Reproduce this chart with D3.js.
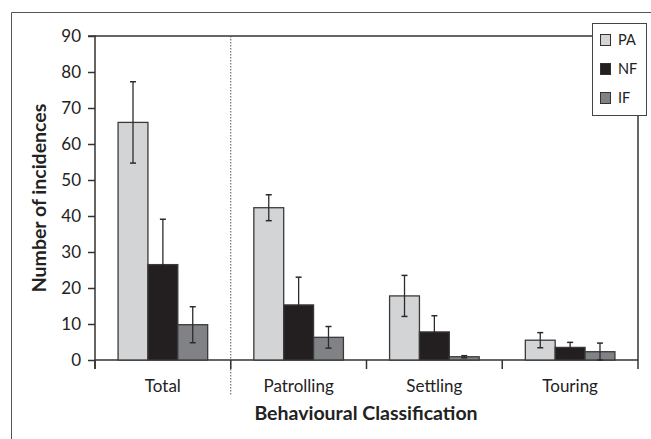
<!DOCTYPE html>
<html><head><meta charset="utf-8">
<script src="https://cdn.jsdelivr.net/npm/d3@7"></script>
<style>body{margin:0;background:#fff}svg{display:block}</style>
</head><body>
<script>
const categories = ["Total", "Patrolling", "Settling", "Touring"];
const seriesNames = ["PA", "NF", "IF"];
const valuesPA = [66, 42.3, 17.8, 5.5];
const valuesNF = [26.5, 15.3, 7.8, 3.5];
const valuesIF = [9.8, 6.3, 0.9, 2.3];
const errPA = [11.3, 3.6, 5.7, 2.1];
const errNF = [12.6, 7.7, 4.5, 1.4];
const errIF = [5.0, 3.0, 0.3, 2.4];
const yTicks = [0, 10, 20, 30, 40, 50, 60, 70, 80, 90];

const colors = {PA: "#d3d4d6", NF: "#231f20", IF: "#818285"};
const vals = {PA: valuesPA, NF: valuesNF, IF: valuesIF};
const errs = {PA: errPA, NF: errNF, IF: errIF};

const W = 651, H = 439;
const m = {left: 95, right: 13, top: 36, bottom: 79};
const svg = d3.select("body").append("svg").attr("width", W).attr("height", H);
const font = "Lato, 'Open Sans', sans-serif";

// outer frame
svg.append("path").attr("d", `M11.5,${H} V12.5 H${W}`).attr("fill", "none").attr("stroke", "#555").attr("stroke-width", 1);

const x0 = d3.scaleBand().domain(categories).range([m.left, W - m.right]).paddingInner(0.34).paddingOuter(0.17);
const x1 = d3.scaleBand().domain(seriesNames).range([0, x0.bandwidth()]);
const y = d3.scaleLinear().domain([0, 90]).range([H - m.bottom, m.top]);

const g = svg.append("g");
g.append("line").attr("x1", m.left).attr("x2", 592).attr("y1", y(90)).attr("y2", y(90)).attr("stroke", "#333").attr("stroke-width", 1.5);
g.append("line").attr("x1", W - m.right).attr("x2", W - m.right).attr("y1", 116).attr("y2", y(0)).attr("stroke", "#333").attr("stroke-width", 1.5);

const step = (W - m.right - m.left) / categories.length;
g.append("line").attr("x1", m.left + step).attr("x2", m.left + step).attr("y1", y(90)).attr("y2", 395)
  .attr("stroke", "#555").attr("stroke-width", 1).attr("stroke-dasharray", "1.5,1.5");

const yAxis = g.append("g").attr("transform", `translate(${m.left},0)`)
  .call(d3.axisLeft(y).tickValues(yTicks).tickSize(7).tickPadding(7));
yAxis.select(".domain").attr("stroke", "#333").attr("stroke-width", 1.5).attr("d", `M-7,${y(90)}H0V${y(0) + 9}`);
yAxis.selectAll(".tick line").attr("stroke", "#333").attr("stroke-width", 1.5);
yAxis.selectAll("text").attr("font-family", font).attr("font-size", 17).attr("fill", "#222");

const xAxisG = g.append("g").attr("transform", `translate(0,${y(0)})`);
xAxisG.append("line").attr("x1", m.left).attr("x2", W - m.right).attr("stroke", "#333").attr("stroke-width", 1.5);
const bounds = d3.range(categories.length + 1).map(i => m.left + i * step);
xAxisG.selectAll(".xt").data(bounds).join("line").attr("class", "xt")
  .attr("x1", d => d).attr("x2", d => d).attr("y1", 0).attr("y2", 9).attr("stroke", "#333").attr("stroke-width", 1.5);
xAxisG.selectAll(".xl").data(categories).join("text").attr("class", "xl")
  .attr("x", d => x0(d) + x0.bandwidth() / 2).attr("y", 32).attr("text-anchor", "middle")
  .attr("font-family", font).attr("font-size", 17).attr("fill", "#222").text(d => d);

const groups = g.selectAll(".grp").data(categories).join("g").attr("transform", d => `translate(${x0(d)},0)`);
seriesNames.forEach(s => {
  groups.append("rect").attr("x", x1(s)).attr("width", x1.bandwidth())
    .attr("y", (d, i) => y(vals[s][i])).attr("height", (d, i) => y(0) - y(vals[s][i]))
    .attr("fill", colors[s]).attr("stroke", "#3a3a3a").attr("stroke-width", 1.3);
});
seriesNames.forEach(s => {
  groups.each(function(d, i) {
    const gg = d3.select(this);
    const cx = x1(s) + x1.bandwidth() / 2;
    const v = vals[s][i];
    const lo = Math.max(0, v - errs[s][i]), hi = v + errs[s][i];
    const col = "#2b2b2b";
    const lowCol = s === "NF" ? colors.NF : col;
    gg.append("line").attr("x1", cx).attr("x2", cx).attr("y1", y(v)).attr("y2", y(hi)).attr("stroke", col).attr("stroke-width", 1.3);
    gg.append("line").attr("x1", cx).attr("x2", cx).attr("y1", y(lo)).attr("y2", y(v)).attr("stroke", lowCol).attr("stroke-width", 1.3);
    gg.append("line").attr("x1", cx - 3).attr("x2", cx + 3).attr("y1", y(hi)).attr("y2", y(hi)).attr("stroke", col).attr("stroke-width", 1.5);
    gg.append("line").attr("x1", cx - 3).attr("x2", cx + 3).attr("y1", y(lo)).attr("y2", y(lo)).attr("stroke", lowCol).attr("stroke-width", 1.5);
  });
});

svg.append("text").attr("transform", `translate(46,198) rotate(-90)`).attr("text-anchor", "middle")
  .attr("font-family", font).attr("font-weight", "bold").attr("font-size", 19.5).attr("fill", "#222").text("Number of incidences");
svg.append("text").attr("x", 366).attr("y", 420).attr("text-anchor", "middle")
  .attr("font-family", font).attr("font-weight", "bold").attr("font-size", 19.5).attr("fill", "#222").text("Behavioural Classification");

const lg = svg.append("g");
lg.append("rect").attr("x", 592.5).attr("y", 23.5).attr("width", 54).attr("height", 92).attr("fill", "#fff").attr("stroke", "#444").attr("stroke-width", 1);
seriesNames.forEach((s, i) => {
  const yy = 34 + i * 29;
  lg.append("rect").attr("x", 600.5).attr("y", yy + 0.5).attr("width", 10).attr("height", 11).attr("fill", colors[s]).attr("stroke", "#333").attr("stroke-width", 1);
  lg.append("text").attr("x", 618).attr("y", yy + 11).attr("font-family", font).attr("font-size", 14.5).attr("fill", "#222").text(s);
});
</script>
</body></html>
